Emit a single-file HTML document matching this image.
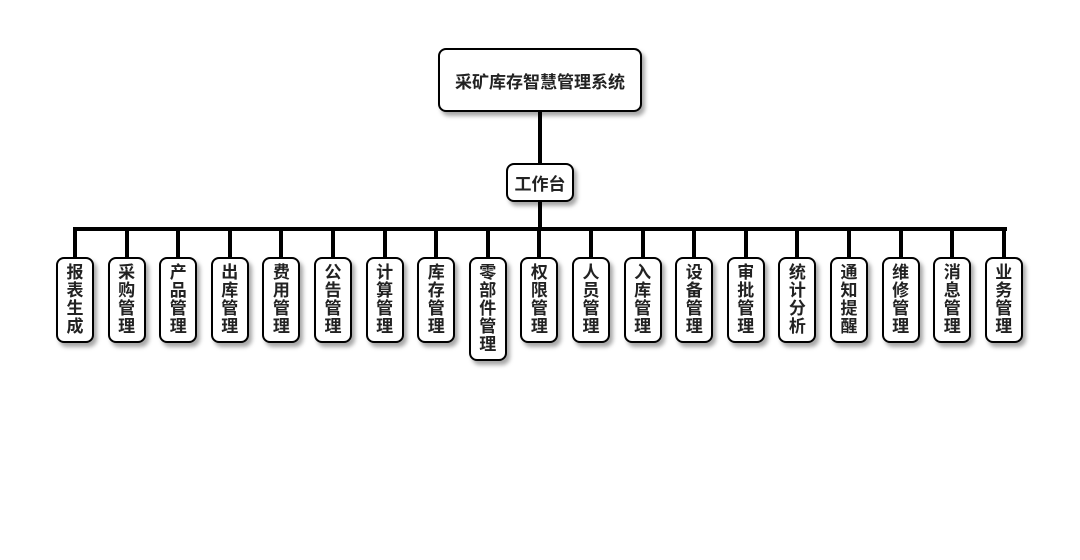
<!DOCTYPE html>
<html><head><meta charset="utf-8"><style>
body{margin:0;background:#fff;width:1080px;height:560px;position:relative;overflow:hidden;font-family:"Liberation Sans","Noto Sans CJK SC",sans-serif;}
.b{position:absolute;background:#fff;border:2px solid #000;border-radius:8px;box-sizing:border-box;box-shadow:3px 4px 4px rgba(0,0,0,0.35);font-weight:bold;color:#222;display:flex;align-items:center;justify-content:center;text-align:center;}
.c{width:38px;font-size:17px;line-height:18px;top:257px;height:86px;padding:0 10px;word-break:break-all;}
.l{position:absolute;background:#000;}
</style></head><body>
<div class="l" style="left:538px;top:112px;width:4px;height:52px"></div>
<div class="l" style="left:538px;top:202px;width:4px;height:28px"></div>
<div class="l" style="left:73px;top:227px;width:934px;height:4px"></div>
<div class="b" style="left:438px;top:48px;width:204px;height:64px;font-size:17px">采矿库存智慧管理系统</div>
<div class="b" style="left:506px;top:163px;width:68px;height:39px;font-size:17px">工作台</div>
<div id="k"></div>
<script>
var n=["报表生成","采购管理","产品管理","出库管理","费用管理","公告管理","计算管理","库存管理","零部件管理","权限管理","人员管理","入库管理","设备管理","审批管理","统计分析","通知提醒","维修管理","消息管理","业务管理"];
var h="";
for(var i=0;i<n.length;i++){var cx=75+i*51.6;
h+='<div class="l" style="left:'+(cx-2)+'px;top:229px;width:4px;height:29px"></div>';
var ht=n[i].length==5?104:86;
h+='<div class="b c" style="left:'+(cx-19)+'px;height:'+ht+'px">'+n[i]+'</div>';}
document.getElementById("k").innerHTML=h;
</script>
</body></html>
